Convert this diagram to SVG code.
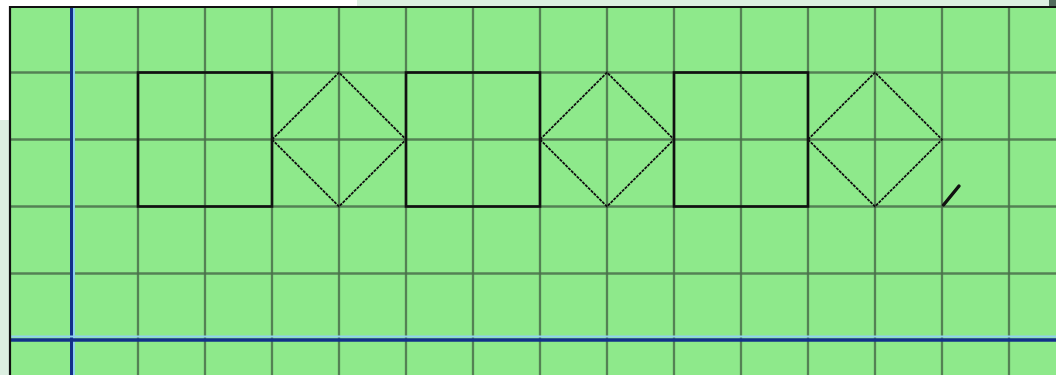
<svg xmlns="http://www.w3.org/2000/svg" width="1056" height="375" viewBox="0 0 1056 375">
  <style>
    .grid line { stroke: #4a704b; stroke-width: 2.3; opacity: 0.85; }
    .sq { fill: none; stroke: #111; stroke-width: 2.6; }
    .dm { fill: none; stroke: #111; stroke-width: 1.8; stroke-dasharray: 3 1; }
  </style>
  <rect x="0" y="0" width="1056" height="375" fill="#ffffff"/>
  <rect x="357" y="0" width="699" height="7" fill="#dcefe1"/>
  <rect x="1049" y="0" width="7" height="7" fill="#4f6b5b"/>
  <rect x="0" y="120" width="10" height="255" fill="#dcefe1"/>
  <rect x="10" y="7" width="1046" height="368" fill="#8ee98b"/>
  <g class="grid" id="grid">
    <line x1="138" y1="8" x2="138" y2="375"/>
    <line x1="205" y1="8" x2="205" y2="375"/>
    <line x1="272" y1="8" x2="272" y2="375"/>
    <line x1="339" y1="8" x2="339" y2="375"/>
    <line x1="406" y1="8" x2="406" y2="375"/>
    <line x1="473" y1="8" x2="473" y2="375"/>
    <line x1="540" y1="8" x2="540" y2="375"/>
    <line x1="607" y1="8" x2="607" y2="375"/>
    <line x1="674" y1="8" x2="674" y2="375"/>
    <line x1="741" y1="8" x2="741" y2="375"/>
    <line x1="808" y1="8" x2="808" y2="375"/>
    <line x1="875" y1="8" x2="875" y2="375"/>
    <line x1="942" y1="8" x2="942" y2="375"/>
    <line x1="1009" y1="8" x2="1009" y2="375"/>
    <line x1="11" y1="72.5" x2="1056" y2="72.5"/>
    <line x1="11" y1="139.5" x2="1056" y2="139.5"/>
    <line x1="11" y1="206.5" x2="1056" y2="206.5"/>
    <line x1="11" y1="273.5" x2="1056" y2="273.5"/>
  </g>
  <g id="axes">
    <line x1="74" y1="8" x2="74" y2="375" stroke="#8fd0f0" stroke-width="2"/>
    <line x1="71.5" y1="8" x2="71.5" y2="375" stroke="#12308a" stroke-width="3"/>
    <line x1="11" y1="336.5" x2="1056" y2="336.5" stroke="#8fd0f0" stroke-width="2"/>
    <line x1="11" y1="340" x2="1056" y2="340" stroke="#12308a" stroke-width="3.5"/>
  </g>
  <line x1="10" y1="7" x2="1056" y2="7" stroke="#111" stroke-width="2"/>
  <line x1="10" y1="6" x2="10" y2="375" stroke="#111" stroke-width="2.2"/>
  <g id="square1"><rect class="sq" x="138" y="72.5" width="134" height="134"/></g>
  <g id="diamond1"><polygon class="dm" points="272,139.5 339,72.5 406,139.5 339,206.5"/></g>
  <g id="square2"><rect class="sq" x="406" y="72.5" width="134" height="134"/></g>
  <g id="diamond2"><polygon class="dm" points="540,139.5 607,72.5 674,139.5 607,206.5"/></g>
  <g id="square3"><rect class="sq" x="674" y="72.5" width="134" height="134"/></g>
  <g id="diamond3"><polygon class="dm" points="808,139.5 875,72.5 942,139.5 875,206.5"/></g>
  <g id="tick"><line x1="943.5" y1="205" x2="959" y2="186" stroke="#111" stroke-width="3.4" stroke-linecap="round"/></g>
</svg>
